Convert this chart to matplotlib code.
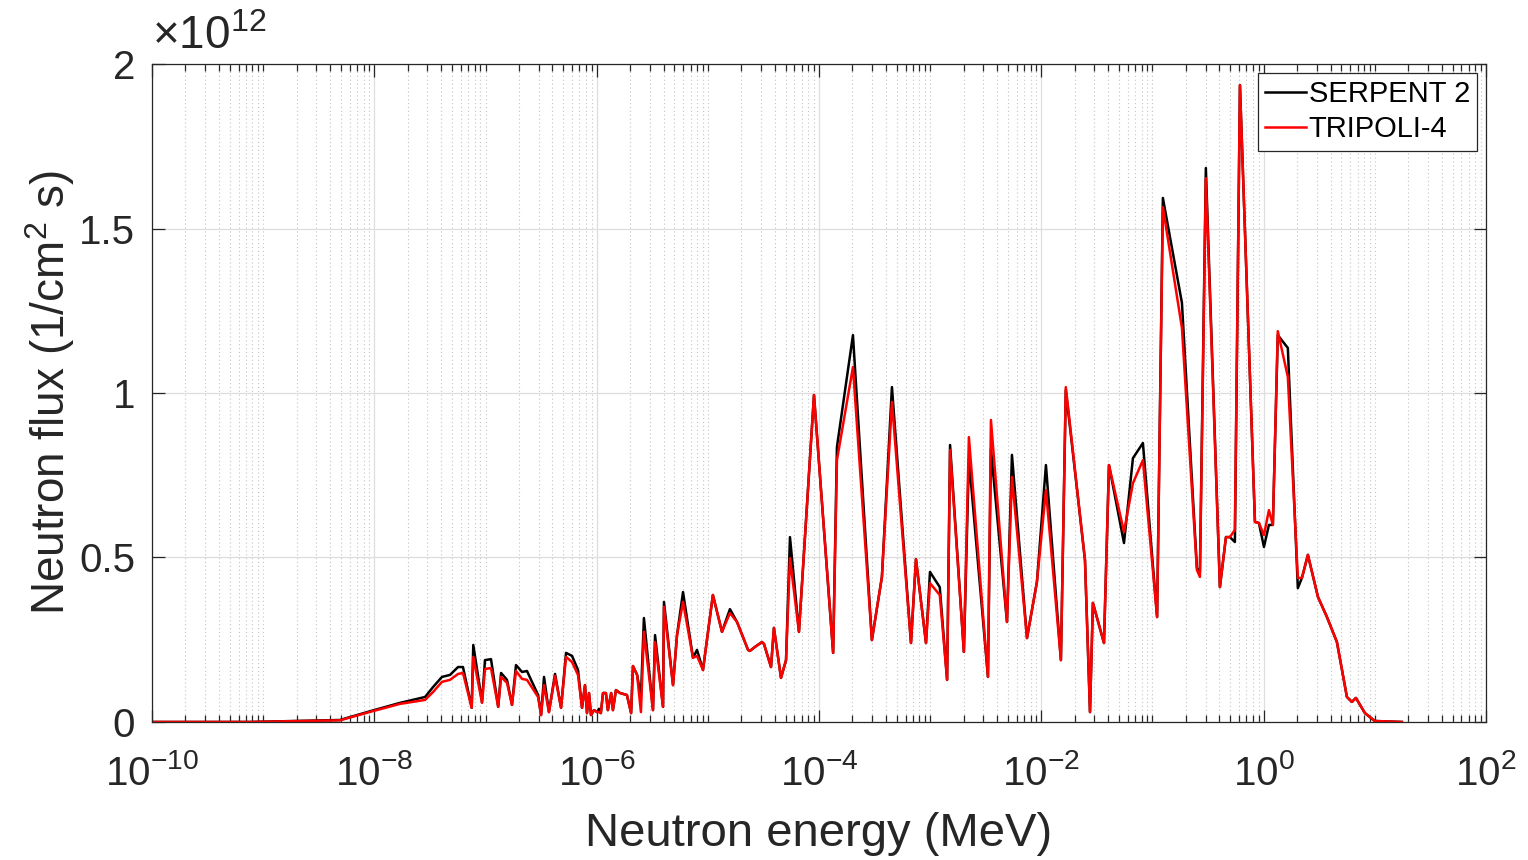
import numpy as np
import matplotlib
matplotlib.use("Agg")
import matplotlib.pyplot as plt
from matplotlib.ticker import FixedLocator, LogLocator, NullFormatter, FuncFormatter

plt.rcParams['font.family'] = ['Liberation Sans', 'DejaVu Sans']
plt.rcParams['mathtext.fontset'] = 'custom'
plt.rcParams['mathtext.rm'] = 'Liberation Sans'
plt.rcParams['mathtext.it'] = 'Liberation Sans:italic'

# energy grid (MeV)
energy = [1.0e-10, 7.6e-10, 4.9e-9, 9.7e-9, 1.70e-8, 2.86e-8, 3.37e-8, 4.06e-8, 4.79e-8,
          5.66e-8, 6.27e-8, 7.51e-8, 7.76e-8, 9.30e-8, 9.89e-8, 1.12e-7, 1.30e-7, 1.38e-7,
          1.56e-7, 1.73e-7, 1.88e-7, 2.13e-7, 2.36e-7, 2.97e-7, 3.16e-7, 3.36e-7, 3.72e-7,
          4.22e-7, 4.78e-7, 5.30e-7, 6.00e-7, 6.79e-7, 7.38e-7, 7.85e-7, 8.18e-7, 8.53e-7,
          8.89e-7, 9.46e-7, 1.01e-6, 1.05e-6, 1.09e-6, 1.14e-6, 1.21e-6, 1.26e-6, 1.35e-6,
          1.40e-6, 1.49e-6, 1.62e-6, 1.87e-6, 2.04e-6, 2.12e-6, 2.31e-6, 2.50e-6, 2.66e-6,
          3.21e-6, 3.35e-6, 3.95e-6, 4.03e-6, 4.86e-6, 5.28e-6, 5.98e-6, 7.35e-6, 7.99e-6,
          9.04e-6, 1.11e-5, 1.34e-5, 1.58e-5, 1.83e-5, 2.30e-5, 2.39e-5, 2.65e-5, 3.07e-5,
          3.20e-5, 3.70e-5, 3.93e-5, 4.55e-5, 5.05e-5, 5.48e-5, 6.60e-5, 9.01e-5, 1.34e-4,
          1.45e-4, 2.02e-4, 2.99e-4, 3.68e-4, 4.53e-4, 6.72e-4, 7.45e-4, 9.17e-4, 9.96e-4,
          1.22e-3, 1.42e-3, 1.51e-3, 2.01e-3, 2.23e-3, 3.31e-3, 3.52e-3, 4.91e-3, 5.44e-3,
          7.43e-3, 9.13e-3, 1.10e-2, 1.50e-2, 1.66e-2, 2.47e-2, 2.74e-2, 2.91e-2, 3.66e-2,
          4.06e-2, 5.54e-2, 6.67e-2, 8.20e-2, 0.110, 0.124, 0.184, 0.251, 0.267, 0.302,
          0.404, 0.458, 0.497, 0.551, 0.612, 0.835, 0.907, 1.006, 1.115, 1.21, 1.34, 1.65,
          2.03, 2.21, 2.50, 3.08, 3.71, 4.56, 5.61, 6.22, 6.76, 8.15, 10.0, 17.5]

# flux in units of 1e12 1/(cm^2 s)
serpent = [0, 0, 0.006, 0.035, 0.058, 0.076, 0.106, 0.137, 0.143,
           0.167, 0.167, 0.043, 0.234, 0.061, 0.188, 0.191, 0.046, 0.149,
           0.128, 0.052, 0.173, 0.152, 0.155, 0.082, 0.021, 0.137, 0.030,
           0.146, 0.043, 0.210, 0.201, 0.158, 0.043, 0.112, 0.027, 0.088,
           0.021, 0.036, 0.030, 0.040, 0.027, 0.088, 0.088, 0.036, 0.088,
           0.036, 0.097, 0.088, 0.082, 0.027, 0.170, 0.143, 0.076, 0.316,
           0.036, 0.264, 0.046, 0.365, 0.112, 0.264, 0.395, 0.195, 0.219,
           0.158, 0.386, 0.274, 0.343, 0.304, 0.219, 0.216, 0.228, 0.243,
           0.237, 0.167, 0.286, 0.134, 0.188, 0.562, 0.274, 0.994, 0.210,
           0.836, 1.176, 0.249, 0.441, 1.018, 0.240, 0.495, 0.240, 0.456,
           0.410, 0.128, 0.842, 0.213, 0.800, 0.137, 0.830, 0.304, 0.812,
           0.255, 0.426, 0.781, 0.188, 1.009, 0.492, 0.030, 0.362, 0.240,
           0.781, 0.544, 0.802, 0.848, 0.319, 1.593, 1.274, 0.468, 0.456, 1.684,
           0.410, 0.562, 0.562, 0.547, 1.936, 0.608, 0.605, 0.532, 0.599, 0.599, 1.176, 1.137,
           0.407, 0.438, 0.508, 0.380, 0.319, 0.243, 0.076, 0.061, 0.073, 0.027, 0.003, 0.0]

tripoli = [0, 0, 0.005, 0.033, 0.055, 0.067, 0.091, 0.122, 0.128,
           0.146, 0.149, 0.043, 0.198, 0.058, 0.161, 0.164, 0.046, 0.137,
           0.119, 0.052, 0.155, 0.131, 0.128, 0.076, 0.021, 0.112, 0.030,
           0.140, 0.043, 0.198, 0.182, 0.143, 0.043, 0.112, 0.027, 0.088,
           0.021, 0.036, 0.030, 0.030, 0.027, 0.088, 0.088, 0.036, 0.088,
           0.036, 0.097, 0.088, 0.082, 0.027, 0.170, 0.143, 0.030, 0.274,
           0.036, 0.243, 0.046, 0.350, 0.112, 0.264, 0.365, 0.195, 0.201,
           0.158, 0.386, 0.274, 0.331, 0.304, 0.219, 0.216, 0.228, 0.243,
           0.237, 0.167, 0.286, 0.134, 0.188, 0.498, 0.274, 0.994, 0.210,
           0.796, 1.079, 0.249, 0.441, 0.973, 0.240, 0.495, 0.240, 0.422,
           0.386, 0.128, 0.827, 0.213, 0.866, 0.137, 0.918, 0.304, 0.745,
           0.255, 0.426, 0.705, 0.188, 1.018, 0.492, 0.030, 0.362, 0.240,
           0.781, 0.578, 0.726, 0.796, 0.319, 1.565, 1.198, 0.462, 0.441, 1.653,
           0.410, 0.562, 0.562, 0.584, 1.936, 0.608, 0.605, 0.568, 0.644, 0.599, 1.188, 1.049,
           0.438, 0.438, 0.508, 0.380, 0.319, 0.243, 0.076, 0.061, 0.073, 0.027, 0.003, 0.0]

x_major = [1e-10, 1e-8, 1e-6, 1e-4, 1e-2, 1e0, 1e2]
y_major = [0, 0.5, 1, 1.5, 2]

fig = plt.figure(figsize=(15.28, 8.6), dpi=100)
ax = fig.add_axes([0.0995, 0.1605, 0.873, 0.765])

ax.plot(energy, serpent, color='black', lw=1.8, label='SERPENT 2')
ax.plot(energy, tripoli, color='#ff0000', lw=1.8, label='TRIPOLI-4')

ax.set_xscale('log')
ax.set_xlim(1e-10, 1e2)
ax.set_ylim(0, 2)
ax.xaxis.set_major_locator(FixedLocator(x_major))
ax.xaxis.set_minor_locator(LogLocator(base=10, subs=np.arange(1, 10), numticks=100))
ax.xaxis.set_minor_formatter(NullFormatter())
ax.set_yticks(y_major)
ax.yaxis.set_major_formatter(FuncFormatter(lambda v, p: '%g' % v))

ax.grid(which='major', color='#dedede', lw=0.9, ls='-')
ax.grid(which='minor', axis='x', color='#c4c4c4', lw=0.8, ls=(0, (1, 2.5)))
ax.set_axisbelow(True)

ax.tick_params(which='both', direction='in', top=True, right=True,
               colors='#262626', labelsize=29, width=0.9)
ax.tick_params(which='major', length=9)
ax.tick_params(which='minor', length=5)
ax.tick_params(axis='x', which='major', pad=23)
ax.tick_params(axis='y', which='major', pad=12)
for s in ax.spines.values():
    s.set_color('#262626')
    s.set_linewidth(0.9)

ax.set_xlabel('Neutron energy (MeV)', fontsize=34, color='#262626', labelpad=14)
ax.set_ylabel('Neutron flux (1/cm$^2$ s)', fontsize=33, color='#262626', labelpad=2)
ax.text(0.0, 1.008, r'$\times10^{12}$', transform=ax.transAxes, fontsize=33,
        color='#262626', ha='left', va='bottom')

leg = ax.legend(loc='upper right', fontsize=21, handlelength=1.4, handletextpad=0.1,
                borderpad=0.25, labelspacing=0.25, borderaxespad=0.3, fancybox=False)
leg.get_frame().set_edgecolor('#262626')
leg.get_frame().set_linewidth(0.9)
leg.get_frame().set_alpha(1)

fig.savefig('out.png', dpi=100)
